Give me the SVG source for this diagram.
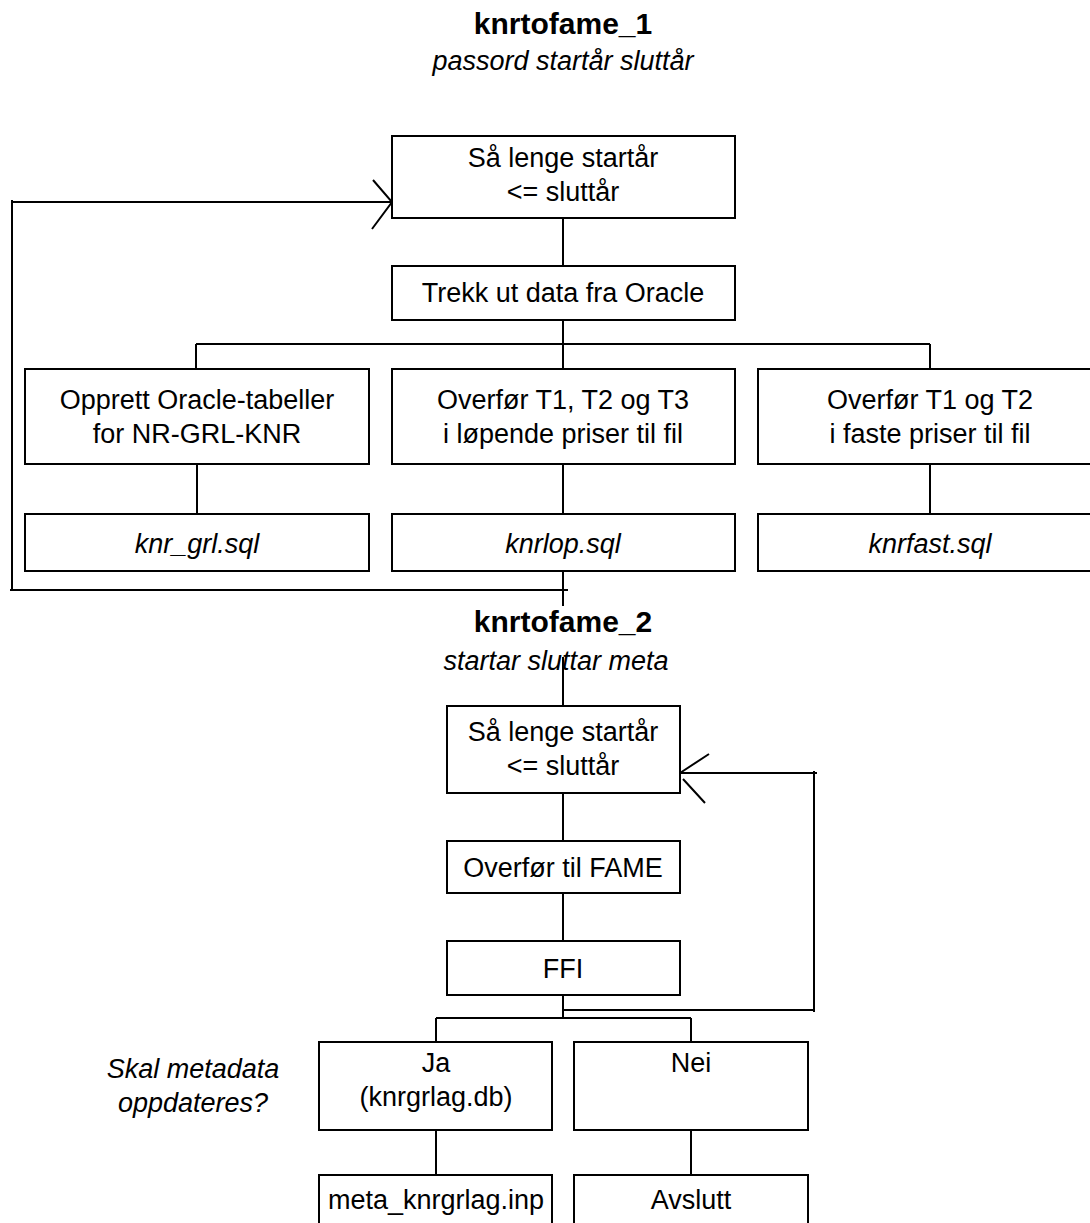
<svg xmlns="http://www.w3.org/2000/svg" width="1090" height="1223" viewBox="0 0 1090 1223">
  <style>
    .box { fill: #fff; stroke: #000; stroke-width: 2; }
    .ln { fill: none; stroke: #000; stroke-width: 2; }
    text { font-family: "Liberation Sans", Arial, sans-serif; font-size: 27px; fill: #000; text-anchor: middle; }
    .title { font-weight: bold; font-size: 30px; }
    .it { font-style: italic; }
  </style>
  <rect width="1090" height="1223" fill="#fff"/>

  <!-- connectors -->
  <g id="connectors">
    <!-- knrtofame_1 -->
    <path class="ln" d="M563 218 V266"/>
    <path class="ln" d="M563 320 V344 M196 344 H930 M196 344 V369 M563 344 V369 M930 344 V369"/>
    <path class="ln" d="M197 464 V514 M563 464 V514 M930 464 V514"/>
    <path class="ln" d="M563 571 V606 M568 590 H10 M12 590 V200 M12 202 H392"/>
    <path class="ln" d="M373 180 L392 202 L372 229"/>
    <!-- knrtofame_2 -->
    <path class="ln" d="M563 657 V706"/>
    <path class="ln" d="M563 793 V841 M563 893 V941"/>
    <path class="ln" d="M563 995 V1018 M563 1010 H814 M814 1012 V771 M817 773 H680"/>
    <path class="ln" d="M709 754 L680 773 M683 779 L705 803"/>
    <path class="ln" d="M436 1018 H691 M436 1018 V1042 M691 1018 V1042"/>
    <path class="ln" d="M436 1130 V1175 M691 1130 V1175"/>
  </g>

  <!-- headings -->
  <g id="heading1">
    <text class="title" x="563" y="34">knrtofame_1</text>
    <text class="it" x="563" y="70">passord startår sluttår</text>
  </g>
  <g id="heading2">
    <text class="title" x="563" y="632">knrtofame_2</text>
    <text class="it" x="556" y="670">startar sluttar meta</text>
  </g>

  <!-- knrtofame_1 nodes -->
  <g id="loop1">
    <rect class="box" x="392" y="136" width="343" height="82"/>
    <text x="563" y="167">Så lenge startår</text>
    <text x="563" y="201">&lt;= sluttår</text>
  </g>
  <g id="extract">
    <rect class="box" x="392" y="266" width="343" height="54"/>
    <text x="563" y="302">Trekk ut data fra Oracle</text>
  </g>
  <g id="create-tables">
    <rect class="box" x="25" y="369" width="344" height="95"/>
    <text x="197" y="409">Opprett Oracle-tabeller</text>
    <text x="197" y="443">for NR-GRL-KNR</text>
  </g>
  <g id="transfer-current">
    <rect class="box" x="392" y="369" width="343" height="95"/>
    <text x="563" y="409">Overfør T1, T2 og T3</text>
    <text x="563" y="443">i løpende priser til fil</text>
  </g>
  <g id="transfer-fixed">
    <rect class="box" x="758" y="369" width="344" height="95"/>
    <text x="930" y="409">Overfør T1 og T2</text>
    <text x="930" y="443">i faste priser til fil</text>
  </g>
  <g id="knr_grl">
    <rect class="box" x="25" y="514" width="344" height="57"/>
    <text class="it" x="197" y="553">knr_grl.sql</text>
  </g>
  <g id="knrlop">
    <rect class="box" x="392" y="514" width="343" height="57"/>
    <text class="it" x="563" y="553">knrlop.sql</text>
  </g>
  <g id="knrfast">
    <rect class="box" x="758" y="514" width="344" height="57"/>
    <text class="it" x="930" y="553">knrfast.sql</text>
  </g>

  <!-- knrtofame_2 nodes -->
  <g id="loop2">
    <rect class="box" x="447" y="706" width="233" height="87"/>
    <text x="563" y="741">Så lenge startår</text>
    <text x="563" y="775">&lt;= sluttår</text>
  </g>
  <g id="to-fame">
    <rect class="box" x="447" y="841" width="233" height="52"/>
    <text x="563" y="877">Overfør til FAME</text>
  </g>
  <g id="ffi">
    <rect class="box" x="447" y="941" width="233" height="54"/>
    <text x="563" y="978">FFI</text>
  </g>
  <g id="question">
    <text class="it" x="193" y="1078">Skal metadata</text>
    <text class="it" x="193" y="1112">oppdateres?</text>
  </g>
  <g id="yes">
    <rect class="box" x="319" y="1042" width="233" height="88"/>
    <text x="436" y="1072">Ja</text>
    <text x="436" y="1106">(knrgrlag.db)</text>
  </g>
  <g id="no">
    <rect class="box" x="574" y="1042" width="234" height="88"/>
    <text x="691" y="1072">Nei</text>
  </g>
  <g id="meta">
    <rect class="box" x="319" y="1175" width="233" height="70"/>
    <text x="436" y="1209">meta_knrgrlag.inp</text>
  </g>
  <g id="quit">
    <rect class="box" x="574" y="1175" width="234" height="70"/>
    <text x="691" y="1209">Avslutt</text>
  </g>
</svg>
